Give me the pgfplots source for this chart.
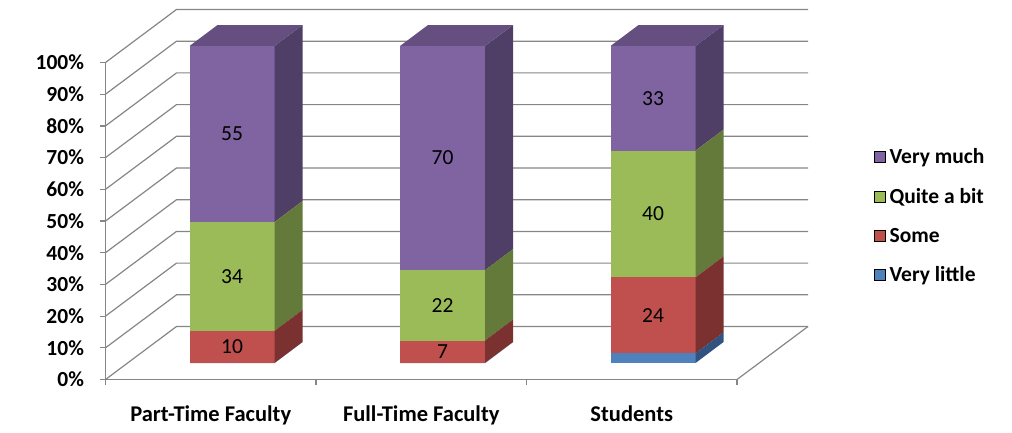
\documentclass[border=0pt]{standalone}
\usepackage{fontspec}
\setmainfont{Carlito}
\usepackage{pgfplots}
\usepackage{pgfplotstable}
\pgfplotsset{compat=1.18}

\definecolor{gridc}{HTML}{868686}
\definecolor{cPurple}{HTML}{8064A2}
\definecolor{cPurpleSide}{HTML}{4F3E65}
\definecolor{cPurpleTop}{HTML}{644F80}
\definecolor{cGreen}{HTML}{9BBB59}
\definecolor{cGreenSide}{HTML}{637A3A}
\definecolor{cRed}{HTML}{C0504D}
\definecolor{cRedSide}{HTML}{7B3130}
\definecolor{cBlue}{HTML}{4F81BD}
\definecolor{cBlueSide}{HTML}{30547F}

% one small table per group (two identical rows: front edge x=0, back edge x=1)
\pgfplotstableread{
x little some quite much
0 0 10 34 55
1 0 10 34 55
}\tabPT
\pgfplotstableread{
x little some quite much
0 0 7 22 70
1 0 7 22 70
}\tabFT
\pgfplotstableread{
x little some quite much
0 3 24 40 33
1 3 24 40 33
}\tabST

\newcommand\tot{(\thisrow{little}+\thisrow{some}+\thisrow{quite}+\thisrow{much})}

\pgfplotsset{
  barax/.style={anchor=origin, hide axis, xmin=0, xmax=1, ymin=0, ymax=100,
    clip=false, enlargelimits=false},
  seg/.style={draw=none, fill=#1},
}

\newcommand\drawbar[2]{%
  % front face
  \begin{axis}[barax, at={(#2pt,69pt)}, x={(85pt,0pt)}, y={(0pt,3.17pt)}, stack plots=y]
    \addplot[draw=none] coordinates {(0,0) (1,0)};
    \addplot[seg=cBlue]   table[x=x, y expr=\thisrow{little}*100/\tot] {#1} \closedcycle;
    \addplot[seg=cRed]    table[x=x, y expr=\thisrow{some}*100/\tot] {#1} \closedcycle;
    \addplot[seg=cGreen]  table[x=x, y expr=\thisrow{quite}*100/\tot] {#1} \closedcycle;
    \addplot[seg=cPurple] table[x=x, y expr=\thisrow{much}*100/\tot] {#1} \closedcycle;
  \end{axis}
  % side face
  \begin{axis}[barax, at={(#2pt+85pt,69pt)}, x={(28pt,21pt)}, y={(0pt,3.17pt)}, stack plots=y]
    \addplot[draw=none] coordinates {(0,0) (1,0)};
    \addplot[seg=cBlueSide]   table[x=x, y expr=\thisrow{little}*100/\tot] {#1} \closedcycle;
    \addplot[seg=cRedSide]    table[x=x, y expr=\thisrow{some}*100/\tot] {#1} \closedcycle;
    \addplot[seg=cGreenSide]  table[x=x, y expr=\thisrow{quite}*100/\tot] {#1} \closedcycle;
    \addplot[seg=cPurpleSide] table[x=x, y expr=\thisrow{much}*100/\tot] {#1} \closedcycle;
  \end{axis}
}

\newcommand\drawlabels[2]{%
  \begin{axis}[barax, at={(#2pt,69pt)}, x={(85pt,0pt)}, y={(0pt,3.17pt)},
      every node near coord/.append style={anchor=center, text=black,
        font=\fontsize{21.5}{25}\selectfont}]
    % top face of the bar (depth 28pt x 21pt)
    \addplot[seg=cPurpleTop] coordinates {(0,100) (1,100) (1.3294,106.62) (0.3294,106.62)} -- cycle;
    \addplot[draw=none, mark=none, nodes near coords, point meta=explicit symbolic,
      skip coords between index={1}{2}]
      table[x expr=0.5, y expr=(\thisrow{little}+\thisrow{some}/2)*100/\tot, meta=some] {#1};
    \addplot[draw=none, mark=none, nodes near coords, point meta=explicit symbolic,
      skip coords between index={1}{2}]
      table[x expr=0.5, y expr=(\thisrow{little}+\thisrow{some}+\thisrow{quite}/2)*100/\tot, meta=quite] {#1};
    \addplot[draw=none, mark=none, nodes near coords, point meta=explicit symbolic,
      skip coords between index={1}{2}]
      table[x expr=0.5, y expr=(\thisrow{little}+\thisrow{some}+\thisrow{quite}+\thisrow{much}/2)*100/\tot, meta=much] {#1};
  \end{axis}
}

\begin{document}
\begin{tikzpicture}
\useasboundingbox (0,0) rectangle (1012pt,432pt);
\begin{axis}[
  anchor=origin, at={(105.5pt,52.5pt)},
  x={(210.5pt,0pt)}, y={(0pt,3.17pt)},
  xmin=0, xmax=3, ymin=0, ymax=100,
  enlargelimits=false,
  axis x line*=bottom, axis y line*=left,
  axis line style={draw=gridc, line width=1.2pt, -},
  tick style={draw=gridc, line width=1.2pt},
  tick align=outside, major tick length=5pt,
  xtick={0,1,2,3}, xticklabels={},
  extra x ticks={0.5,1.5,2.5},
  extra x tick labels={Part-Time Faculty,Full-Time Faculty,Students},
  extra x tick style={major tick length=0pt, xticklabel style={yshift=-23pt,
    font=\fontsize{22.5}{26}\selectfont\bfseries}},
  ytick={0,10,...,100},
  yticklabel={\pgfmathprintnumber{\tick}\%},
  yticklabel style={xshift=-13pt},
  /pgf/number format/assume math mode=true,
  tick label style={font=\fontsize{21.5}{25}\selectfont\bfseries, text=black},
  clip=false,
  legend style={at={(1.2122,0.516)}, anchor=west, draw=none, fill=none,
    font=\fontsize{21.5}{25}\selectfont\bfseries, row sep=19pt,
    /tikz/every odd column/.append style={column sep=2pt}},
  legend cell align=left,
  legend image code/.code={\fill[#1] (0pt,-5.5pt) rectangle (11pt,5.5pt);},
]
\pgfplotsinvokeforeach{0,10,...,100}{
  \draw[gridc, line width=1.2pt] (axis cs:0,#1) -- ++(71pt,53pt) -- ++(631.5pt,0pt);
}
\draw[gridc, line width=1.2pt] (axis cs:3,0) -- ++(71pt,53pt);
\addlegendimage{fill=cPurple}\addlegendentry{Very much}
\addlegendimage{fill=cGreen}\addlegendentry{Quite a bit}
\addlegendimage{fill=cRed}\addlegendentry{Some}
\addlegendimage{fill=cBlue}\addlegendentry{Very little}
\end{axis}

\drawbar{\tabPT}{189.5}
\drawbar{\tabFT}{400}
\drawbar{\tabST}{610.5}
\drawlabels{\tabPT}{189.5}
\drawlabels{\tabFT}{400}
\drawlabels{\tabST}{610.5}
\end{tikzpicture}
\end{document}
